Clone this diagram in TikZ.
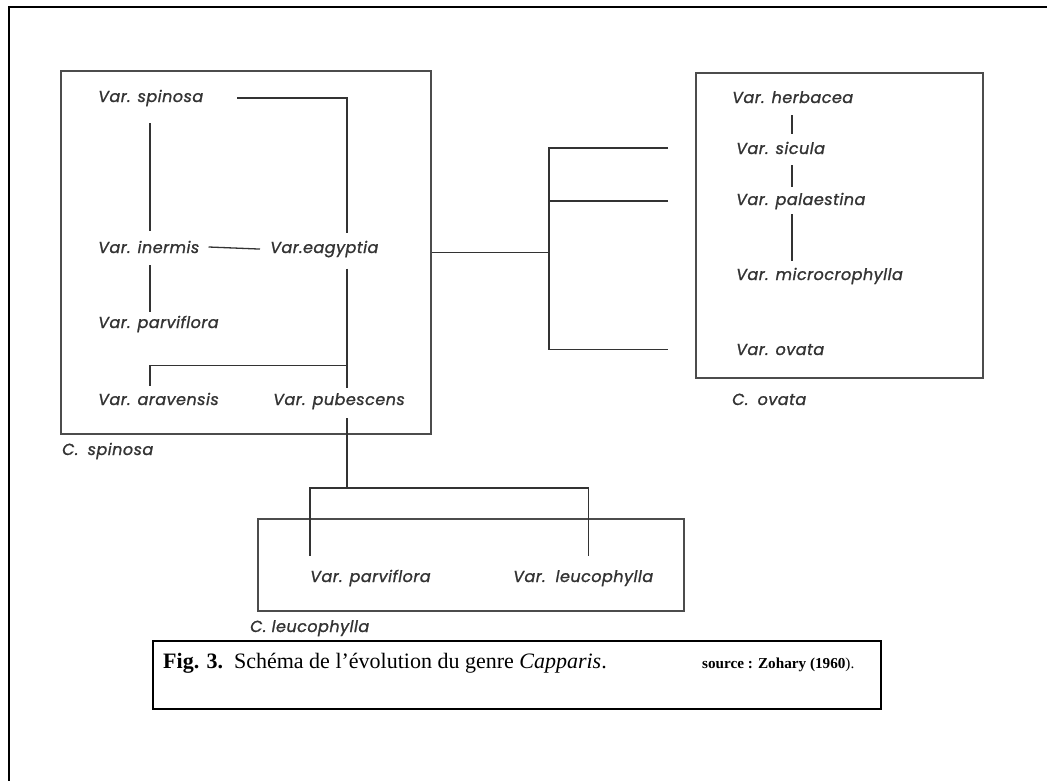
\documentclass[tikz,border=0pt]{standalone}
\usepackage{fontspec}
\setmainfont{Liberation Serif}
\newfontfamily\varfont[LetterSpace=3, FakeBold=1.2]{Poppins}
\usetikzlibrary{calc}

\begin{document}
\begin{tikzpicture}[
        x=1pt, y=-1pt,
        every node/.style={inner sep=0pt},
        var/.style={anchor=base west, text=black!80,
            font=\varfont\itshape\fontsize{16}{19}\selectfont},
        grp/.style={draw=black!70, line width=1.6pt, anchor=north west},
        link/.style={draw=black!80, line width=1.3pt},
        frame/.style={draw=black, line width=2pt}
    ]
    \useasboundingbox (0,0) rectangle (1047,780);
    \draw[frame] (9,800) -- (9,7) -- (1060,7);

    \node[grp, minimum width=370pt, minimum height=363pt] (boxspinosa) at (60,70) {};
    \node[grp, minimum width=287pt, minimum height=305pt] (boxovata) at (695,72) {};
    \node[grp, minimum width=426pt, minimum height=92pt] (boxleuco) at (257,518) {};
    \node[grp, draw=black, line width=1.5pt, minimum width=728pt, minimum height=68pt] (capbox) at (152,640) {};

    \node[var] (spinosa) at (98,102) {Var. spinosa};
    \node[var] (inermis) at (98,253) {Var. inermis};
    \node[var] (eagyptia) at (270,253) {Var.eagyptia};
    \node[var] (parvifloraA) at (98,328) {Var. parviflora};
    \node[var] (aravensis) at (98,405) {Var. aravensis};
    \node[var] (pubescens) at (273,405) {Var. pubescens};
    \node[var] (cspinosa) at (62,455) {C.\hspace{4pt} spinosa};

    \node[var] (herbacea) at (732,103) {Var. herbacea};
    \node[var] (sicula) at (736,154) {Var. sicula};
    \node[var] (palaestina) at (736,205) {Var. palaestina};
    \node[var] (microcrophylla) at (736,280) {Var. microcrophylla};
    \node[var] (ovata) at (736,355) {Var. ovata};
    \node[var] (covata) at (732,405) {C.\hspace{4pt} ovata};

    \node[var] (parvifloraB) at (310,582) {Var. parviflora};
    \node[var] (leucophylla) at (513,582) {Var.\hspace{3pt} leucophylla};
    \node[var] (cleucophylla) at (250,632) {C. leucophylla};

    \node[anchor=base west, font=\fontsize{22}{24}\selectfont] (caption) at (163,668)
        {\textbf{Fig. 3.}\ \ Schéma de l’évolution du genre \textit{Capparis}.};
    \node[anchor=base west, font=\fontsize{15.2}{18}\selectfont] (source) at (702,668)
        {\textbf{source : Zohary (1960}).};

    \coordinate (cI) at (150,0);
    \coordinate (cE) at (347,0);
    \coordinate (cT) at (549,0);
    \coordinate (cO) at (792,0);
    \coordinate (fork) at (347,488);

    \draw[link] ([xshift=34pt]spinosa.east) -| ($(cE |- eagyptia.north)+(0,-8)$);
    \draw[link] ($(cI |- spinosa.south)+(0,17)$) -- ($(cI |- inermis.north)+(0,-10)$);
    \draw[link] ([xshift=9pt]inermis.east) -- ([xshift=-10pt]eagyptia.west);
    \draw[link] ($(cI |- inermis.south)+(0,12)$) -- ($(cI |- parvifloraA.north)+(0,-4)$);
    \draw[link] ($(cE |- eagyptia.south)+(0,11)$) -- ($(cE |- pubescens.north)+(0,-5)$);
    \draw[link] ($(cI |- aravensis.north)+(0,-7)$) |- ($(cE |- aravensis.north)+(0,-27)$);

    \draw[link] ($(cE |- pubescens.south)+(0,9)$) -- (fork);
    \draw[link] ($(parvifloraB.north west)+(0,-14)$) |- (fork) -| ($(leucophylla.north)+(5,-14)$);

    \draw[link] (boxspinosa.east) -- (boxspinosa.east -| cT);
    \draw[link] ([xshift=-68pt]sicula.west) -| (cT |- ovata.west) -- ([xshift=-68pt]ovata.west);
    \draw[link] ([xshift=-68pt]palaestina.west) -- (cT |- palaestina.west);

    \draw[link] ($(cO |- herbacea.south)+(0,12)$) -- ($(cO |- sicula.north)+(0,-8)$);
    \draw[link] ($(cO |- sicula.south)+(0,11)$) -- ($(cO |- palaestina.north)+(0,-6)$);
    \draw[link] ($(cO |- palaestina.south)+(0,5)$) -- ($(cO |- microcrophylla.north)+(0,-7)$);
\end{tikzpicture}
\end{document}
